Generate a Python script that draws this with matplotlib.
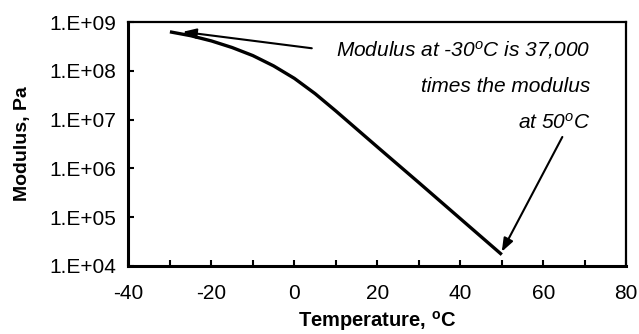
"""Modulus vs temperature plot on a log scale."""

import math

import matplotlib
matplotlib.use('Agg')
import matplotlib.pyplot as plt
from matplotlib.ticker import FixedLocator, FuncFormatter, NullLocator

# Data
temperature = [-30, -25, -20, -15, -10, -5, 0, 5, 10, 20, 30, 40, 50]
modulus = [6.3e8, 5.25e8, 4.1e8, 3.0e8, 2.05e8, 1.26e8, 7.0e7, 3.4e7,
           1.5e7, 2.75e6, 5.1e5, 9.3e4, 1.7e4]
x_ticks = [-40, -20, 0, 20, 40, 60, 80]
x_minor = [-30, -10, 10, 30, 50, 70]
y_ticks = [1e4, 1e5, 1e6, 1e7, 1e8, 1e9]
note_lines = [r'Modulus at -30$^\mathit{o}$C is 37,000',
              'times the modulus',
              r'at 50$^\mathit{o}$C']

plt.rcParams['font.family'] = ['Liberation Sans', 'DejaVu Sans']
plt.rcParams['axes.unicode_minus'] = False
plt.rcParams['mathtext.fontset'] = 'custom'
plt.rcParams['mathtext.rm'] = 'Liberation Sans'
plt.rcParams['mathtext.it'] = 'Liberation Sans:italic'
plt.rcParams['mathtext.bf'] = 'Liberation Sans:bold'


def main():
    fig = plt.figure(figsize=(6.39, 3.34), dpi=100)
    ax = fig.add_axes([0.201, 0.204, 0.779, 0.730])

    ax.plot(temperature, modulus, color='black', lw=2.4,
            solid_capstyle='butt', solid_joinstyle='round')
    ax.set_yscale('log')
    ax.set_xlim(-40, 80)
    ax.set_ylim(1e4, 1e9)

    ax.xaxis.set_major_locator(FixedLocator(x_ticks))
    ax.xaxis.set_minor_locator(FixedLocator(x_minor))
    ax.yaxis.set_major_locator(FixedLocator(y_ticks))
    ax.yaxis.set_minor_locator(NullLocator())
    ax.yaxis.set_major_formatter(
        FuncFormatter(lambda v, _: '1.E+%02d' % round(math.log10(v))))
    ax.tick_params(which='both', direction='in', length=4, width=1.5,
                   labelsize=15, color='black')
    ax.tick_params(axis='x', which='both', pad=13)
    ax.tick_params(axis='y', pad=9)

    for side in ['left', 'bottom']:
        ax.spines[side].set_linewidth(2.2)
    for side in ['top', 'right']:
        ax.spines[side].set_linewidth(1.6)

    ax.set_xlabel(r'Temperature, $^\mathbf{o}$C', fontsize=14.5,
                  fontweight='bold', va='top')
    ax.xaxis.set_label_coords(0.5, -0.176)
    ax.set_ylabel('Modulus, Pa', fontsize=14, fontweight='bold', labelpad=13)

    # Annotation text
    for i, line in enumerate(note_lines):
        ax.text(0.928, 0.885 - i * 0.148, line, transform=ax.transAxes,
                ha='right', va='center', fontsize=15, style='italic')

    arrow = dict(arrowstyle='-|>,head_length=0.8,head_width=0.3',
                 color='black', lw=1.5, shrinkA=0, shrinkB=0)
    ax.annotate('', xy=(-26.9, 6.3e8), xytext=(4.2, 2.9e8),
                arrowprops=arrow)
    ax.annotate('', xy=(50, 1.95e4), xytext=(64.6, 4.4e6),
                arrowprops=arrow)

    fig.savefig('out.png', dpi=100)
    plt.close(fig)


if __name__ == '__main__':
    main()
